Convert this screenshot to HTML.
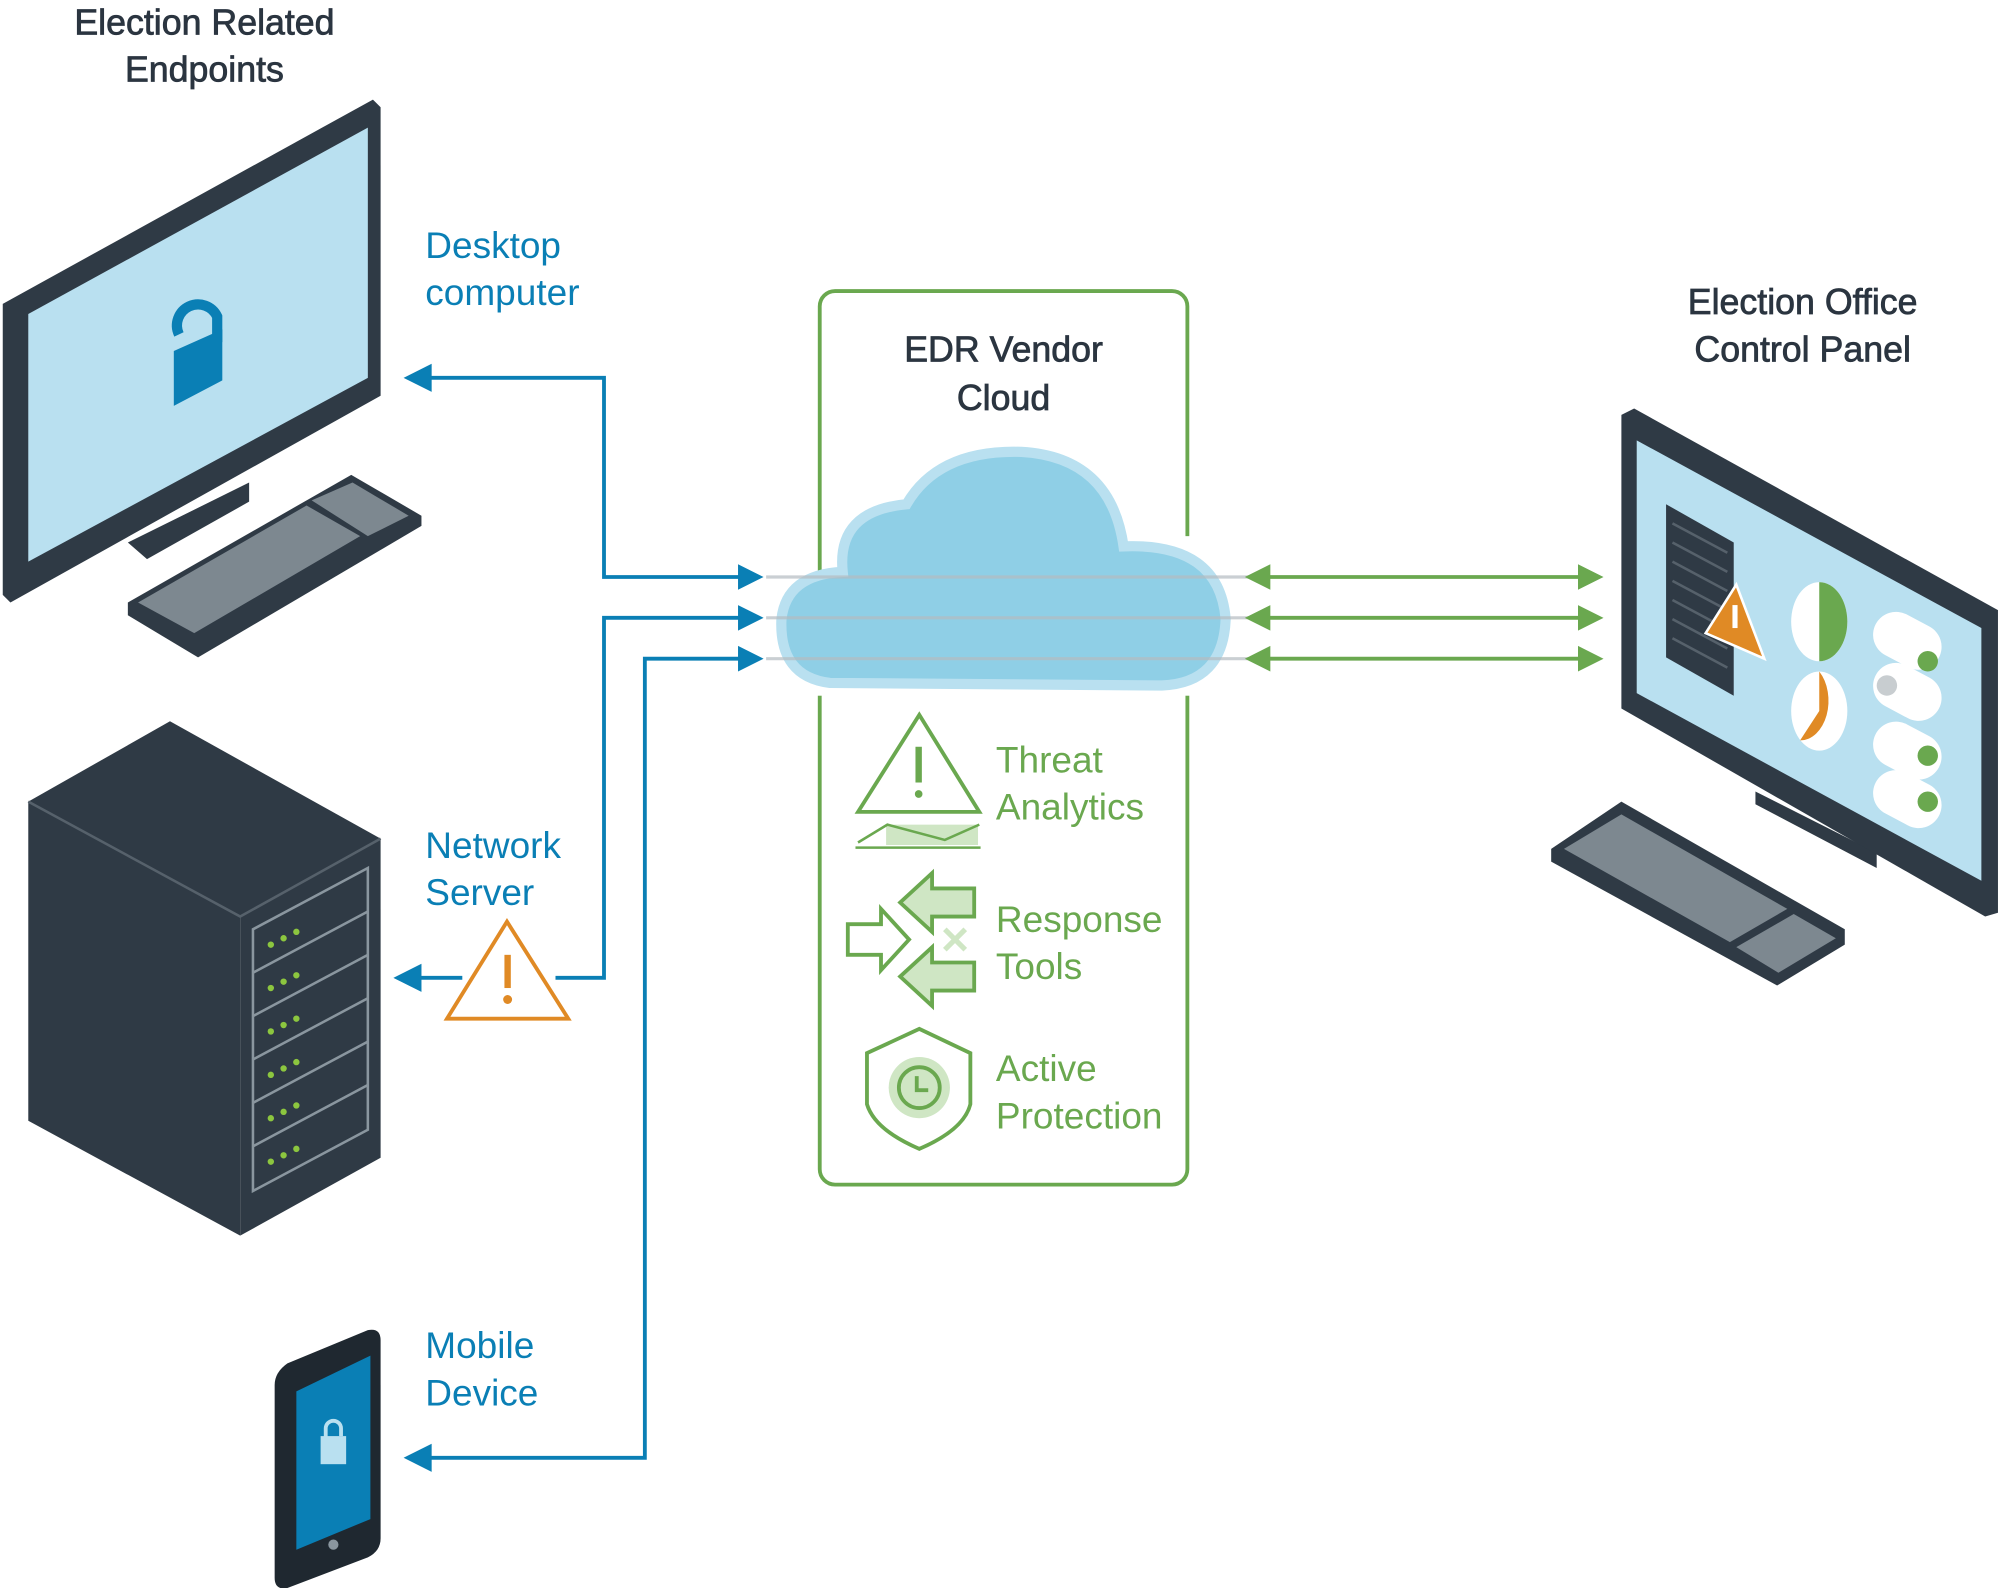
<!DOCTYPE html>
<html><head><meta charset="utf-8"><style>
html,body{margin:0;padding:0;background:#fff;}
svg{display:block;}
text{font-family:"Liberation Sans",sans-serif;}
</style></head><body>
<svg width="2002" height="1588" viewBox="0 0 1568 1244" xmlns="http://www.w3.org/2000/svg">
<rect width="1568" height="1244" fill="#fff"/>

<!-- Titles -->
<g fill="#2b3540" font-size="28" text-anchor="middle" stroke="#2b3540" stroke-width="0.6">
<text x="160" y="27">Election Related</text>
<text x="160" y="64">Endpoints</text>
<text x="786" y="283">EDR Vendor</text>
<text x="786" y="321">Cloud</text>
<text x="1412" y="246">Election Office</text>
<text x="1412" y="283">Control Panel</text>
</g>

<!-- Blue labels -->
<g fill="#0a7fb5" font-size="29">
<text x="333" y="202">Desktop</text>
<text x="333" y="239">computer</text>
<text x="333" y="672">Network</text>
<text x="333" y="709">Server</text>
<text x="333" y="1064">Mobile</text>
<text x="333" y="1101">Device</text>
</g>

<!-- Desktop monitor -->
<polygon points="100,425 195,378 195,393 115,438" fill="#2f3a45"/>
<polygon points="2,238 292,78 298,84 298,310 8,472 2,466" fill="#2f3a45"/>
<polygon points="22,246 288,100 288,296 22,440" fill="#b9e0f0"/>
<path d="M140,262 a15,15 0 0 1 30,-14 v20" fill="none" stroke="#0a7fb5" stroke-width="8"/>
<polygon points="136,275 174,258 174,298 136,318" fill="#0a7fb5"/>
<polygon points="100,472 275,372 330,404 330,412 155,515 100,482" fill="#2f3a45"/>
<polygon points="108,472 240,396 282,420 152,496" fill="#7d8890"/>
<polygon points="244,392 276,378 320,404 288,420" fill="#7d8890"/>

<!-- Server -->
<polygon points="22,628 133,565 298,657 188,718" fill="#2f3a45"/>
<polygon points="22,628 188,718 188,968 22,878" fill="#2f3a45"/>
<polygon points="188,718 298,657 298,907 188,968" fill="#2f3a45"/>
<path d="M22,628 L188,718 L298,657" stroke="#56616b" stroke-width="2" fill="none"/>
<g stroke="#8a969f" stroke-width="2" fill="none">
<polygon points="198,728 288,680 288,885 198,933"/>
<line x1="198" y1="762" x2="288" y2="714"/><line x1="198" y1="796" x2="288" y2="748"/>
<line x1="198" y1="830" x2="288" y2="782"/><line x1="198" y1="864" x2="288" y2="816"/>
<line x1="198" y1="898" x2="288" y2="850"/>
</g>
<g fill="#8cc63f">
<circle cx="212" cy="740" r="2.5"/><circle cx="222" cy="735" r="2.5"/><circle cx="232" cy="730" r="2.5"/>
<circle cx="212" cy="774" r="2.5"/><circle cx="222" cy="769" r="2.5"/><circle cx="232" cy="764" r="2.5"/>
<circle cx="212" cy="808" r="2.5"/><circle cx="222" cy="803" r="2.5"/><circle cx="232" cy="798" r="2.5"/>
<circle cx="212" cy="842" r="2.5"/><circle cx="222" cy="837" r="2.5"/><circle cx="232" cy="832" r="2.5"/>
<circle cx="212" cy="876" r="2.5"/><circle cx="222" cy="871" r="2.5"/><circle cx="232" cy="866" r="2.5"/>
<circle cx="212" cy="910" r="2.5"/><circle cx="222" cy="905" r="2.5"/><circle cx="232" cy="900" r="2.5"/>
</g>

<!-- Mobile -->
<path d="M215,1085 Q215,1075 225,1068 L288,1042 Q298,1040 298,1050 L298,1205 Q298,1215 288,1220 L225,1244 Q215,1246 215,1236 Z" fill="#1f2830"/>
<polygon points="232,1090 290,1062 290,1190 232,1214" fill="#0a7fb5"/>
<rect x="251" y="1125" width="20" height="22" fill="#b9e0f0"/>
<path d="M255,1127 v-8 a6,6 0 0 1 12,0 v6" fill="none" stroke="#b9e0f0" stroke-width="3"/>
<circle cx="261" cy="1210" r="4" fill="#8a969f"/>

<!-- Green box -->
<rect x="642" y="228" width="288" height="700" rx="12" fill="none" stroke="#6aa84f" stroke-width="3"/>
<rect x="630" y="450" width="30" height="95" fill="#fff"/>
<rect x="915" y="420" width="30" height="125" fill="#fff"/>

<!-- Cloud -->
<path d="M650,535 Q610,530 612,485 Q616,450 660,448 Q655,400 710,395 Q735,352 800,354 Q870,358 880,428 Q955,425 960,485 Q958,535 910,537 Z" fill="#8fcfe6" stroke="#b9e0f0" stroke-width="8"/>
<g stroke="#b5bcc1" stroke-width="2.5">
<line x1="600" y1="452" x2="978" y2="452" opacity="0.7"/>
<line x1="600" y1="484" x2="978" y2="484" opacity="0.7"/>
<line x1="600" y1="516" x2="978" y2="516" opacity="0.7"/>
</g>

<!-- Blue connectors -->
<g stroke="#0a7fb5" stroke-width="3" fill="none">
<polyline points="585,452 473,452 473,296 330,296"/>
<polyline points="585,484 473,484 473,766 435,766"/>
<polyline points="362,766 322,766"/>
<polyline points="585,516 505,516 505,1142 330,1142"/>
</g>
<g fill="#0a7fb5">
<polygon points="598,452 578,442 578,462"/>
<polygon points="598,484 578,474 578,494"/>
<polygon points="598,516 578,506 578,526"/>
<polygon points="316,296 338,285 338,307"/>
<polygon points="308,766 330,755 330,777"/>
<polygon points="316,1142 338,1131 338,1153"/>
</g>
<!-- warning triangle -->
<polygon points="350,798 397,722 445,798" fill="#fff" stroke="#e08a25" stroke-width="3"/>
<rect x="395" y="748" width="5" height="26" fill="#e08a25"/>
<circle cx="397.5" cy="783" r="3.5" fill="#e08a25"/>

<!-- Green arrows -->
<g stroke="#6aa84f" stroke-width="3">
<line x1="985" y1="452" x2="1245" y2="452"/>
<line x1="985" y1="484" x2="1245" y2="484"/>
<line x1="985" y1="516" x2="1245" y2="516"/>
</g>
<g fill="#6aa84f">
<polygon points="975,452 995,442 995,462"/><polygon points="1256,452 1236,442 1236,462"/>
<polygon points="975,484 995,474 995,494"/><polygon points="1256,484 1236,474 1236,494"/>
<polygon points="975,516 995,506 995,526"/><polygon points="1256,516 1236,506 1236,526"/>
</g>

<!-- Green labels -->
<g fill="#6aa84f" font-size="29">
<text x="780" y="605">Threat</text>
<text x="780" y="642">Analytics</text>
<text x="780" y="730">Response</text>
<text x="780" y="767">Tools</text>
<text x="780" y="847">Active</text>
<text x="780" y="884">Protection</text>
</g>
<polygon points="672,636 720,560 767,636" fill="none" stroke="#6aa84f" stroke-width="3"/>
<rect x="717" y="585" width="5" height="28" fill="#6aa84f"/><circle cx="719.5" cy="622" r="3" fill="#6aa84f"/>
<rect x="694" y="646" width="72" height="16" fill="#cfe6c4"/>
<polyline points="672,660 695,646 740,658 767,646" fill="none" stroke="#6aa84f" stroke-width="2"/>
<line x1="670" y1="664" x2="768" y2="664" stroke="#6aa84f" stroke-width="2"/>
<polygon points="664,724 690,724 690,712 712,736 690,760 690,748 664,748" fill="#fff" stroke="#6aa84f" stroke-width="3"/>
<polygon points="730,684 730,696 763,696 763,718 730,718 730,730 705,707" fill="#cfe6c4" stroke="#6aa84f" stroke-width="3"/>
<polygon points="730,742 730,754 763,754 763,776 730,776 730,788 705,765" fill="#cfe6c4" stroke="#6aa84f" stroke-width="3"/>
<path d="M740,728 l16,16 M756,728 l-16,16" stroke="#cfe6c4" stroke-width="4"/>
<path d="M720,806 L760,825 L760,865 Q755,885 720,900 Q685,885 679,865 L679,825 Z" fill="#fff" stroke="#6aa84f" stroke-width="3"/>
<circle cx="720" cy="852" r="24" fill="#cfe6c4"/>
<circle cx="720" cy="852" r="16" fill="none" stroke="#6aa84f" stroke-width="3"/>
<path d="M718,843 v11 h9" fill="none" stroke="#6aa84f" stroke-width="3"/>

<!-- Right monitor -->
<polygon points="1375,630 1470,680 1470,668 1375,620" fill="#2f3a45"/>
<polygon points="1270,325 1280,320 1565,478 1565,715 1555,718 1270,555" fill="#2f3a45"/>
<polygon points="1282,345 1552,492 1552,690 1282,543" fill="#b9e0f0"/>
<polygon points="1305,395 1358,425 1358,545 1305,515" fill="#2f3a45"/>
<g stroke="#56616b" stroke-width="2">
<line x1="1310" y1="410" x2="1353" y2="433"/><line x1="1310" y1="425" x2="1353" y2="448"/>
<line x1="1310" y1="440" x2="1353" y2="463"/><line x1="1310" y1="455" x2="1353" y2="478"/>
<line x1="1310" y1="470" x2="1353" y2="493"/><line x1="1310" y1="485" x2="1353" y2="508"/>
<line x1="1310" y1="500" x2="1353" y2="523"/>
</g>
<polygon points="1336,496 1360,458 1382,516" fill="#e08a25" stroke="#fff" stroke-width="2"/>
<rect x="1357" y="474" width="4" height="18" fill="#fff"/>
<ellipse cx="1425" cy="487" rx="22" ry="31" fill="#fff"/>
<path d="M1425,456 A22,31 0 0 1 1425,518 Z" fill="#6aa84f"/>
<ellipse cx="1425" cy="557" rx="22" ry="31" fill="#fff"/>
<path d="M1425,557 L1425,526 A22,31 0 0 1 1410,580 Z" fill="#e08a25"/>
<g fill="#fff">
<rect x="1466" y="484" width="56" height="36" rx="18" transform="rotate(28 1494 502)"/>
<rect x="1466" y="524" width="56" height="36" rx="18" transform="rotate(28 1494 542)"/>
<rect x="1466" y="570" width="56" height="36" rx="18" transform="rotate(28 1494 588)"/>
<rect x="1466" y="608" width="56" height="36" rx="18" transform="rotate(28 1494 626)"/>
</g>
<circle cx="1510" cy="518" r="8" fill="#6aa84f"/>
<circle cx="1478" cy="537" r="8" fill="#c8cdd0"/>
<circle cx="1510" cy="592" r="8" fill="#6aa84f"/>
<circle cx="1510" cy="628" r="8" fill="#6aa84f"/>
<polygon points="1215,665 1270,628 1445,728 1445,740 1392,772 1215,675" fill="#2f3a45"/>
<polygon points="1225,665 1270,638 1400,712 1355,738" fill="#7d8890"/>
<polygon points="1360,742 1405,716 1438,735 1393,762" fill="#7d8890"/>
</svg>
</body></html>
